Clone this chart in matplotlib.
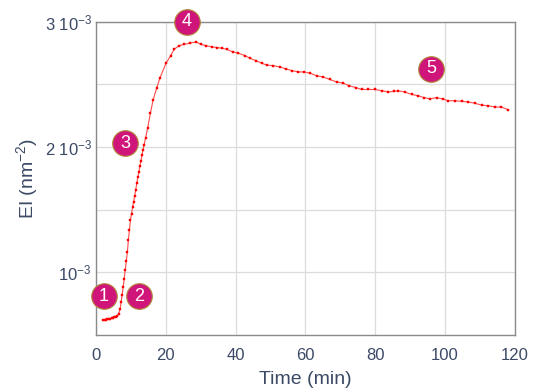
import matplotlib
matplotlib.use("Agg")
import matplotlib.pyplot as plt

# ---- data ----
time_min = [2.1, 2.5, 2.9, 3.3, 3.7, 4.1, 4.5, 4.9, 5.3, 5.7, 6.1, 6.5, 6.9,
            7.2, 7.5, 7.8, 8.1, 8.4, 8.7, 9.0, 9.3, 9.6, 9.9, 10.2, 10.5,
            10.8, 11.1, 11.4, 11.7, 12.0, 12.3, 12.6, 12.9, 13.2, 13.5, 13.8,
            14.2, 14.8, 15.6, 16.4, 17.4, 18.3, 20.1, 21.4, 22.4, 23.8, 25.3,
            26.9, 28.7, 30.1, 31.5, 33.2, 34.6, 36.0, 37.5, 39.2, 40.8, 42.7,
            44.1, 45.8, 47.5, 48.9, 50.8, 52.7, 54.4, 56.2, 58.0, 59.7, 61.3,
            63.2, 65.1, 67.0, 69.0, 70.9, 72.6, 74.5, 76.1, 78.0, 79.9, 81.9,
            83.8, 85.5, 86.6, 88.5, 90.5, 92.3, 94.0, 95.7, 97.6, 99.3, 100.9,
            102.9, 104.8, 106.7, 108.6, 110.5, 112.4, 114.3, 116.2, 118.0]
ei = [0.616, 0.619, 0.622, 0.625, 0.628, 0.631, 0.634, 0.637, 0.640, 0.644,
      0.652, 0.668, 0.705,
      0.760, 0.820, 0.880, 0.950, 1.020, 1.090, 1.160, 1.260, 1.340, 1.420,
      1.470, 1.520, 1.565, 1.610, 1.660, 1.710, 1.760, 1.800, 1.850, 1.890,
      1.940, 1.980, 2.020,
      2.070, 2.150, 2.270, 2.380, 2.470, 2.550, 2.670, 2.730, 2.780, 2.810,
      2.820, 2.830, 2.840, 2.820, 2.810, 2.800, 2.795, 2.790, 2.780, 2.760,
      2.750, 2.730, 2.710, 2.690, 2.670, 2.655, 2.650, 2.640, 2.625, 2.610,
      2.600, 2.600, 2.590, 2.570, 2.560, 2.540, 2.520, 2.510, 2.490, 2.475,
      2.460, 2.460, 2.460, 2.450, 2.440, 2.445, 2.450, 2.440, 2.420, 2.410,
      2.395, 2.385, 2.395, 2.385, 2.370, 2.370, 2.365, 2.360, 2.350, 2.335,
      2.330, 2.320, 2.320, 2.300]
ei = [v * 1e-3 for v in ei]

badge_labels = ["1", "2", "3", "4", "5"]
badge_t = [2.3, 12.3, 8.3, 26.1, 96.0]
badge_ei = [0.808e-3, 0.808e-3, 2.032e-3, 3.0e-3, 2.624e-3]

xticks = [0, 20, 40, 60, 80, 100, 120]
yticks = [1.0e-3, 1.5e-3, 2.0e-3, 2.5e-3, 3.0e-3]
ytick_labels = ["10$^{-3}$", "", "2 10$^{-3}$", "", "3 10$^{-3}$"]

# ---- styling ----
plt.rcParams['font.family'] = ['Liberation Sans', 'DejaVu Sans']
plt.rcParams['mathtext.fontset'] = 'custom'
plt.rcParams['mathtext.rm'] = 'Liberation Sans'
plt.rcParams['mathtext.it'] = 'Liberation Sans'
plt.rcParams['mathtext.default'] = 'regular'
text_col = "#3c4a66"

fig = plt.figure(figsize=(5.39, 3.90), dpi=100)
ax = fig.add_axes([0.178, 0.141, 0.777, 0.803])

ax.plot(time_min, ei, color="#ff4a4a", lw=0.8, marker="s", ms=1.9,
        mfc="#ff0000", mec="#ff0000", mew=0.3, zorder=3)

for lab, t, v in zip(badge_labels, badge_t, badge_ei):
    ax.scatter([t], [v], s=340, color="#d0157a", edgecolor="#b08a3a",
               linewidth=0.8, zorder=5, clip_on=False)
    ax.text(t, v, lab, color="white", fontsize=13, ha="center", va="center",
            zorder=6, clip_on=False)

ax.set_xlim(0, 120)
ax.set_ylim(0.5e-3, 3.0e-3)
ax.set_xticks(xticks)
ax.set_yticks(yticks)
ax.set_yticklabels(ytick_labels)
ax.tick_params(length=0, labelsize=12, colors=text_col, pad=9)
ax.tick_params(axis="y", pad=3)
ax.grid(True, color="#dcdcdc", lw=0.9)
ax.set_axisbelow(True)
for s in ax.spines.values():
    s.set_color("#8a8a8a")
    s.set_linewidth(1.0)

ax.set_xlabel("Time (min)", fontsize=14, color=text_col, labelpad=6)
ax.set_ylabel("EI (nm$^{-2}$)", fontsize=14, color=text_col, labelpad=3)

fig.savefig("out.png", dpi=100)
